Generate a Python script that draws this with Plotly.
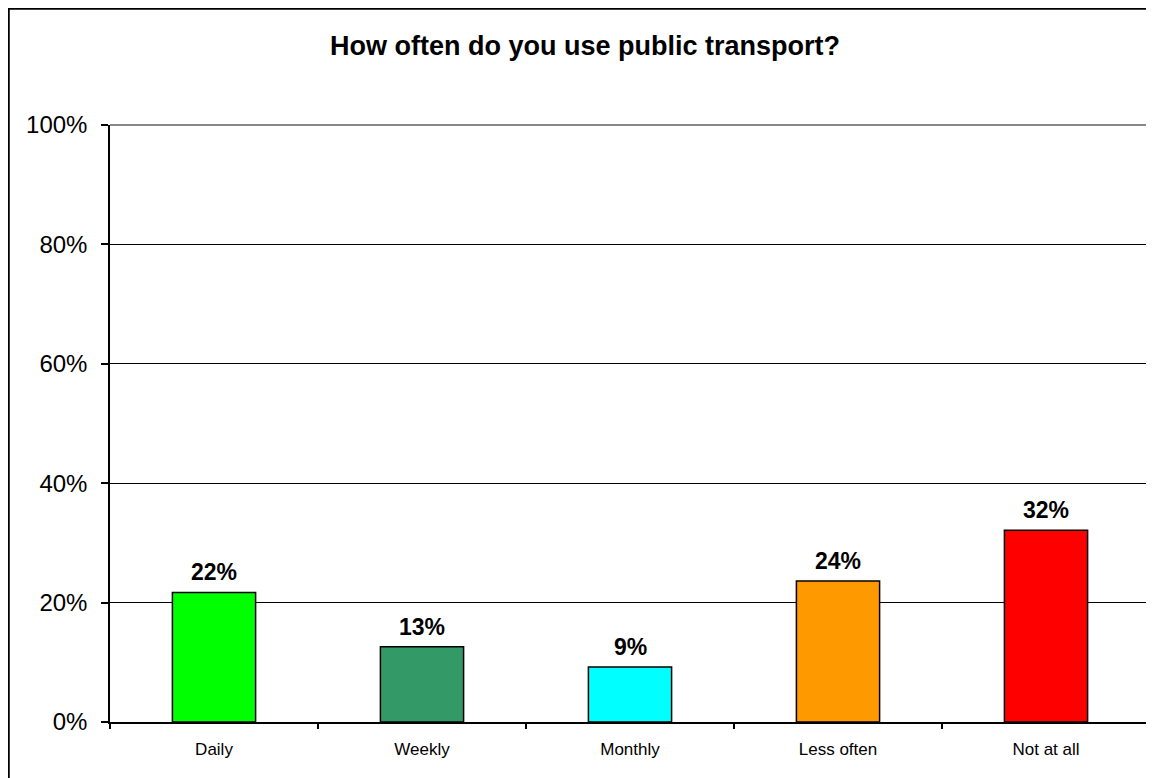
import plotly.graph_objects as go

categories = ["Daily", "Weekly", "Monthly", "Less often", "Not at all"]
values = [0.217, 0.126, 0.092, 0.236, 0.321]
bar_colors = ["#00FF00", "#339966", "#00FFFF", "#FF9900", "#FF0000"]
y_ticks = [0, 0.2, 0.4, 0.6, 0.8, 1.0]
title_text = "How often do you use public transport?"

FONT = "Liberation Sans, Arial, sans-serif"

fig = go.Figure()
fig.add_trace(go.Bar(
    x=categories, y=values, width=0.4,
    marker=dict(color=bar_colors, line=dict(color="black", width=1.5)),
    hoverinfo="skip",
))

for c, v in zip(categories, values):
    fig.add_annotation(x=c, y=v, text=f"<b>{round(v*100):.0f}%</b>", showarrow=False,
                       yanchor="bottom", yshift=5,
                       font=dict(family=FONT, size=23, color="black"))

W, H = 1154, 778
L, R, T, B = 102, 12, 117, 64
pw, ph = W - L - R, H - T - B

def px_x(p):
    return (p - L) / pw

def px_y(p):
    return (H - B - p) / ph

shapes = [
    # outer chart frame (right and bottom edges fall outside the visible window)
    dict(type="rect", xref="paper", yref="paper", x0=px_x(0.5), x1=px_x(W + 20),
         y0=px_y(H + 20), y1=px_y(0.5), line=dict(color="black", width=2.5),
         fillcolor="rgba(0,0,0,0)"),
    # gray plot-area border top and right
    dict(type="line", xref="paper", yref="paper", x0=0, x1=1, y0=1, y1=1,
         line=dict(color="#888888", width=2)),
    dict(type="line", xref="paper", yref="paper", x0=1, x1=1, y0=0, y1=1,
         line=dict(color="#888888", width=2)),
]

fig.update_layout(
    width=W, height=H,
    margin=dict(l=L, r=R, t=T, b=B),
    paper_bgcolor="white", plot_bgcolor="white",
    showlegend=False,
    shapes=shapes,
    title=dict(text=f"<b>{title_text}</b>", x=0.5, xanchor="center",
               yref="container", y=1 - 38 / H, yanchor="middle",
               font=dict(family=FONT, size=27, color="black")),
    font=dict(family=FONT, color="black"),
    bargap=0.6,
)

fig.update_xaxes(
    showline=True, linecolor="black", linewidth=1.5,
    ticks="outside", tickson="boundaries", ticklen=5, tickcolor="black", tickwidth=1.5,
    tickfont=dict(family=FONT, size=17, color="black"),
    showgrid=False, ticklabelstandoff=11,
)

fig.update_yaxes(
    range=[0, 1], tickvals=y_ticks, tickformat=".0%",
    showline=True, linecolor="black", linewidth=1.5,
    ticks="outside", ticklen=7, tickcolor="black", tickwidth=1.5,
    tickfont=dict(family=FONT, size=24, color="black"),
    showgrid=True, gridcolor="black", gridwidth=1.3,
    zeroline=False, ticklabelstandoff=9,
)

fig.write_html("out.html")
